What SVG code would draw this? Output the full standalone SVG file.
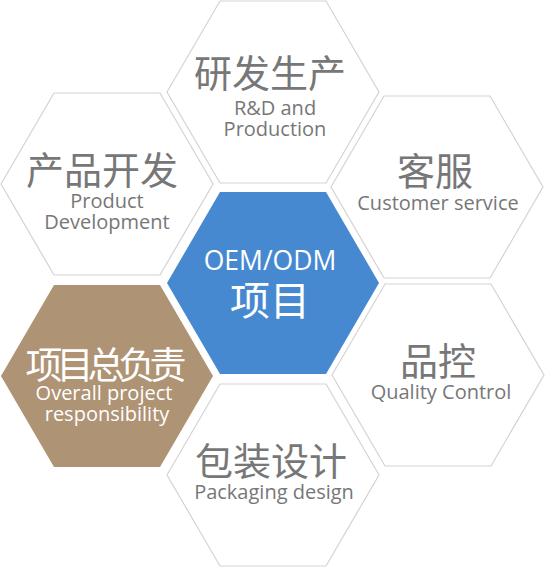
<svg xmlns="http://www.w3.org/2000/svg" width="546" height="567" viewBox="0 0 546 567">
<style>
.hex{fill:#ffffff;stroke:#d3d3d3;stroke-width:1.2}
.t{font-family:"Open Sans","Noto Sans CJK SC",sans-serif;text-anchor:middle;fill:#777777}
.cn{font-size:38px}
.en{font-size:20px}
.w{fill:#ffffff}
</style>
<rect width="546" height="567" fill="#ffffff"/>
<g id="rd">
<polygon class="hex" points="167,92 220,1 326,1 379,92 326,183 220,183"/>
<text class="t cn" x="270" y="87">研发生产</text>
<text class="t en" x="275" y="115">R&amp;D and</text>
<text class="t en" x="275" y="136">Production</text>
</g>
<g id="product">
<polygon class="hex" points="1,184 54,93 160,93 213,184 160,275 54,275"/>
<text class="t cn" x="102" y="184">产品开发</text>
<text class="t en" x="107" y="208">Product</text>
<text class="t en" x="107" y="229">Development</text>
</g>
<g id="customer">
<polygon class="hex" points="331,187 384,96 490,96 543,187 490,278 384,278"/>
<text class="t cn" x="435" y="185">客服</text>
<text class="t en" x="438" y="210">Customer service</text>
</g>
<g id="oem">
<polygon points="167,283 220,192 326,192 379,283 326,374 220,374" fill="#4689d0"/>
<text class="t w" x="270" y="270" font-size="26.5">OEM/ODM</text>
<text class="t w" x="270" y="315" font-size="40">项目</text>
</g>
<g id="overall">
<polygon points="1,376 54,285 160,285 213,376 160,467 54,467" fill="#ae9374"/>
<text class="t w" x="103" y="379" font-size="37" letter-spacing="-6">项目总负责</text>
<text class="t w en" x="104" y="400">Overall project</text>
<text class="t w en" x="107" y="421">responsibility</text>
</g>
<g id="quality">
<polygon class="hex" points="332,375 385,284 491,284 544,375 491,466 385,466"/>
<text class="t cn" x="438" y="375">品控</text>
<text class="t en" x="441" y="399">Quality Control</text>
</g>
<g id="packaging">
<polygon class="hex" points="167,475 220,384 326,384 379,475 326,566 220,566"/>
<text class="t cn" x="271" y="475">包装设计</text>
<text class="t en" x="274" y="499">Packaging design</text>
</g>
<g id="connectors"></g>
</svg>
